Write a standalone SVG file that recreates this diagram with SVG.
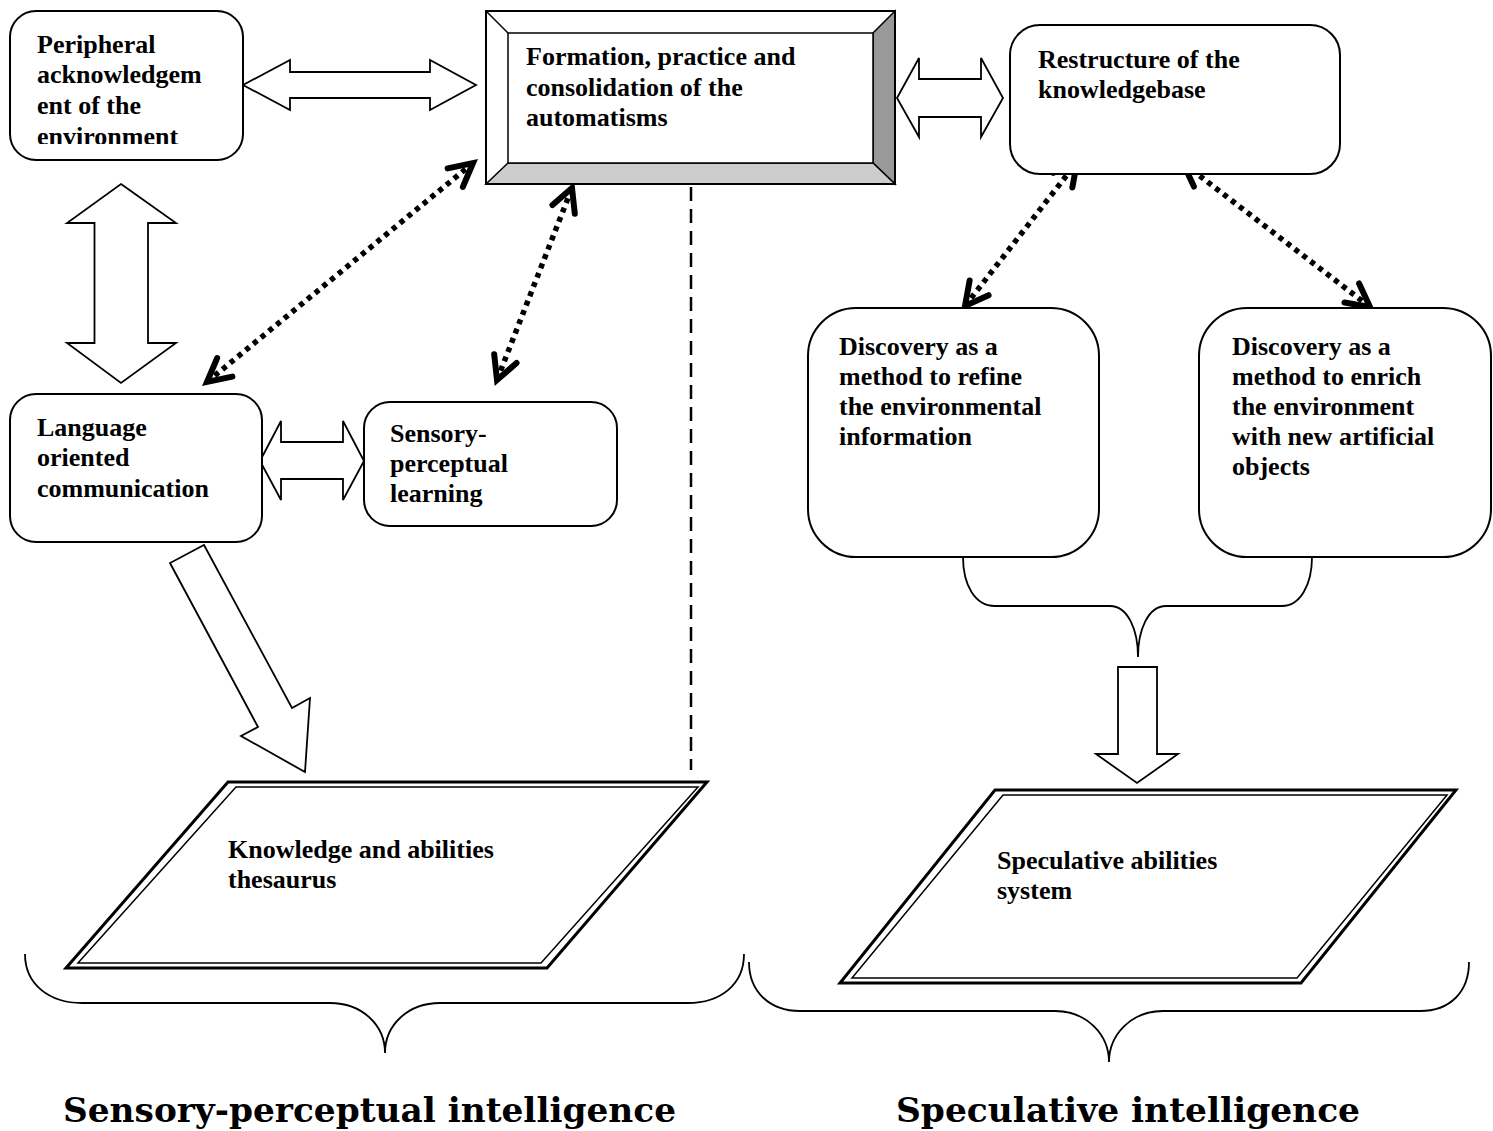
<svg xmlns="http://www.w3.org/2000/svg" width="1493" height="1131" viewBox="0 0 1493 1131">
  <style>
    .box { fill: #ffffff; stroke: #000000; stroke-width: 2; }
    .lbl { font-family: "Liberation Serif", "Times New Roman", serif; font-weight: bold; font-size: 26px; fill: #000000; }
    .big { font-family: "DejaVu Serif", "Liberation Serif", serif; font-weight: bold; font-size: 34px; fill: #000000; }
    .block { fill: #ffffff; stroke: #000000; stroke-width: 1.8; stroke-linejoin: miter; }
    .dots { fill: none; stroke: #000000; stroke-width: 5.5; stroke-dasharray: 5 5; marker-start: url(#vhead); marker-end: url(#vhead); }
    .brace { fill: none; stroke: #000000; stroke-width: 1.8; }
    .par-out { fill: #ffffff; stroke: #000000; stroke-width: 3; stroke-linejoin: miter; }
    .par-in { fill: none; stroke: #000000; stroke-width: 1.5; stroke-linejoin: miter; }
  </style>
  <defs>
    <!-- open V arrowhead used at both ends of the dotted links -->
    <marker id="vhead" markerUnits="userSpaceOnUse" markerWidth="44" markerHeight="44" viewBox="-32 -22 44 44" refX="0" refY="0" orient="auto-start-reverse">
      <path d="M -23,-12 L 0,0 L -23,12" fill="none" stroke="#000000" stroke-width="6" stroke-linecap="round" stroke-linejoin="miter"/>
    </marker>
    <clipPath id="clipPeripheral">
      <rect x="10" y="11" width="233" height="133"/>
    </clipPath>
  </defs>

  <rect width="1493" height="1131" fill="#ffffff"/>

  <!-- connectors -->
  <g id="connectors">
    <!-- block double arrows -->
    <polygon class="block" points="243,85 290,60 290,72 430,72 430,60 476,85 430,110 430,98 290,98 290,110"/>
    <polygon class="block" points="897,98 919,58 919,79 981,79 981,58 1003,98 981,137 981,117 919,117 919,137"/>
    <polygon class="block" points="121,184 176,223 148,223 148,343 176,343 121,383 67,343 94.5,343 94.5,223 67,223"/>
    <polygon class="block" points="260,461 281,421 281,442 343,442 343,421 364,461 343,500 343,479 281,479 281,500"/>
    <!-- block arrow to the thesaurus -->
    <polygon class="block" points="204,545 292,708 310,698 305,772 241,736 258,727 170,563"/>
    <!-- block arrow to the speculative system -->
    <polygon class="block" points="1118,667 1157,667 1157,754 1178,754 1137,783 1096,754 1118,754"/>

    <!-- dotted two-way links -->
    <line class="dots" x1="207" y1="382" x2="473" y2="163"/>
    <line class="dots" x1="497" y1="380" x2="572" y2="188"/>
    <line class="dots" x1="965" y1="306" x2="1077" y2="162"/>
    <line class="dots" x1="1370" y1="307" x2="1183" y2="163"/>

    <!-- dashed divider -->
    <line x1="691" y1="187" x2="691" y2="770" stroke="#000000" stroke-width="2.5" stroke-dasharray="14 8"/>

    <!-- braces -->
    <path class="brace" d="M963,557 C963,585 975,606 995,606 L1110,606 C1128,606 1138,630 1138,657 C1138,630 1148,606 1166,606 L1282,606 C1300,606 1312,585 1312,557"/>
    <path class="brace" d="M25,954 C25,985 50,1003 82,1003 L330,1003 C362,1003 385,1025 385,1053 C385,1025 408,1003 440,1003 L688,1003 C720,1003 744,985 744,954"/>
    <path class="brace" d="M749,962 C749,992 770,1011 800,1011 L1055,1011 C1087,1011 1109,1035 1109,1062 C1109,1035 1131,1011 1163,1011 L1420,1011 C1450,1011 1469,992 1469,962"/>
  </g>

  <!-- nodes -->
  <g id="peripheral">
    <rect class="box" x="10" y="11" width="233" height="149" rx="26" ry="26"/>
    <text class="lbl" clip-path="url(#clipPeripheral)">
      <tspan x="37" y="53">Peripheral</tspan>
      <tspan x="37" y="83">acknowledgem</tspan>
      <tspan x="37" y="113.5">ent of the</tspan>
      <tspan x="37" y="145">environment</tspan>
    </text>
  </g>

  <g id="formation">
    <rect x="486" y="11" width="409" height="173" fill="#ffffff" stroke="none"/>
    <polygon points="873,33 895,11 895,184 873,163" fill="#999999" stroke="#000000" stroke-width="1.5"/>
    <polygon points="508,163 873,163 895,184 486,184" fill="#cccccc" stroke="#000000" stroke-width="1.5"/>
    <line x1="486" y1="11" x2="508" y2="33" stroke="#000000" stroke-width="1.5"/>
    <rect x="508" y="33" width="365" height="130" fill="#ffffff" stroke="#000000" stroke-width="1.5"/>
    <rect x="486" y="11" width="409" height="173" fill="none" stroke="#000000" stroke-width="2"/>
    <text class="lbl">
      <tspan x="526" y="65">Formation, practice and</tspan>
      <tspan x="526" y="95.5">consolidation of the</tspan>
      <tspan x="526" y="126">automatisms</tspan>
    </text>
  </g>

  <g id="restructure">
    <rect class="box" x="1010" y="25" width="330" height="149" rx="30" ry="30"/>
    <text class="lbl">
      <tspan x="1038" y="68">Restructure of the</tspan>
      <tspan x="1038" y="98">knowledgebase</tspan>
    </text>
  </g>

  <g id="language">
    <rect class="box" x="10" y="394" width="252" height="148" rx="26" ry="26"/>
    <text class="lbl">
      <tspan x="37" y="436">Language</tspan>
      <tspan x="37" y="466">oriented</tspan>
      <tspan x="37" y="497">communication</tspan>
    </text>
  </g>

  <g id="sensory">
    <rect class="box" x="364" y="402" width="253" height="124" rx="26" ry="26"/>
    <text class="lbl">
      <tspan x="390" y="442">Sensory-</tspan>
      <tspan x="390" y="472">perceptual</tspan>
      <tspan x="390" y="502">learning</tspan>
    </text>
  </g>

  <g id="discovery-refine">
    <rect class="box" x="808" y="308" width="291" height="249" rx="48" ry="48"/>
    <text class="lbl">
      <tspan x="839" y="355">Discovery as a</tspan>
      <tspan x="839" y="385">method to refine</tspan>
      <tspan x="839" y="415">the environmental</tspan>
      <tspan x="839" y="445">information</tspan>
    </text>
  </g>

  <g id="discovery-enrich">
    <rect class="box" x="1199" y="308" width="292" height="249" rx="48" ry="48"/>
    <text class="lbl">
      <tspan x="1232" y="355">Discovery as a</tspan>
      <tspan x="1232" y="385">method to enrich</tspan>
      <tspan x="1232" y="415">the environment</tspan>
      <tspan x="1232" y="445">with new artificial</tspan>
      <tspan x="1232" y="475">objects</tspan>
    </text>
  </g>

  <g id="thesaurus">
    <polygon class="par-out" points="228,782 707,782 547,968 66,968"/>
    <polygon class="par-in" points="236,787 698,787 541,963 78,963"/>
    <text class="lbl">
      <tspan x="228" y="858">Knowledge and abilities</tspan>
      <tspan x="228" y="888">thesaurus</tspan>
    </text>
  </g>

  <g id="speculative-system">
    <polygon class="par-out" points="995,790 1456,790 1301,983 840,983"/>
    <polygon class="par-in" points="1003,795 1447,795 1297,978 852,978"/>
    <text class="lbl">
      <tspan x="997" y="869">Speculative abilities</tspan>
      <tspan x="997" y="899">system</tspan>
    </text>
  </g>

  <!-- section titles -->
  <g id="titles">
    <text class="big" x="63" y="1122" textLength="613" lengthAdjust="spacingAndGlyphs">Sensory-perceptual intelligence</text>
    <text class="big" x="896" y="1122" textLength="464" lengthAdjust="spacingAndGlyphs">Speculative intelligence</text>
  </g>
</svg>
